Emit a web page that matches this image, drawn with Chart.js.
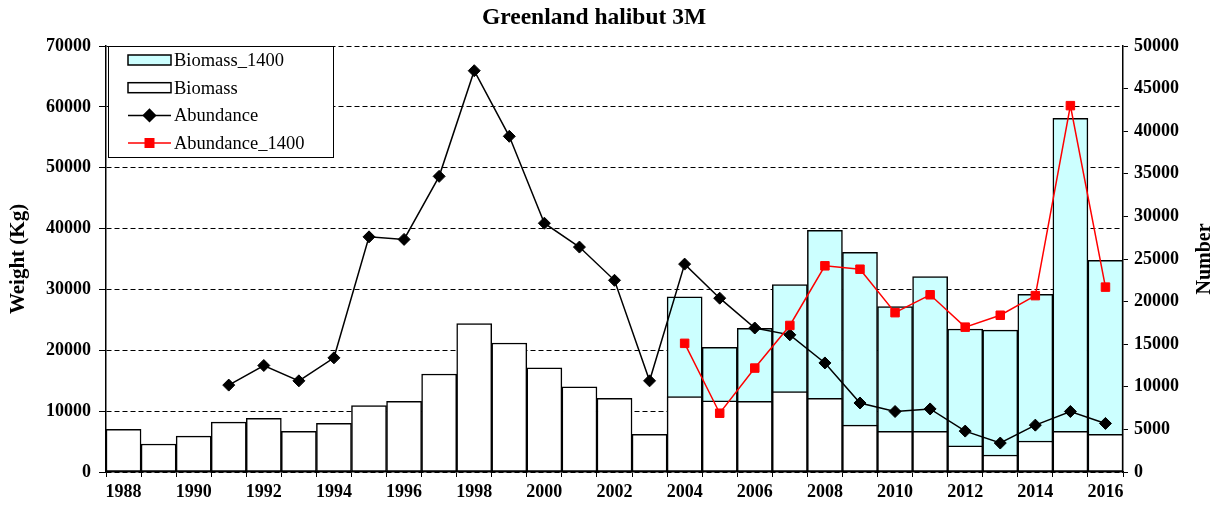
<!DOCTYPE html>
<html>
<head>
<meta charset="utf-8">
<title>Greenland halibut 3M</title>
<script src="https://cdn.jsdelivr.net/npm/chart.js@4.4.1/dist/chart.umd.min.js"></script>
<style>
  html, body { margin: 0; padding: 0; background: #fff; }
  #wrap { width: 1225px; height: 508px; }
</style>
</head>
<body>
<div id="wrap"><canvas id="chart"></canvas></div>
<script>
const years = ["1988", "1989", "1990", "1991", "1992", "1993", "1994", "1995", "1996", "1997",
    "1998", "1999", "2000", "2001", "2002", "2003", "2004", "2005", "2006", "2007",
    "2008", "2009", "2010", "2011", "2012", "2013", "2014", "2015", "2016"];

// weight (kg), left axis
const biomass = [7000, 4600, 5900, 8200, 8800, 6700, 8000, 10900, 11600, 16100,
    24400, 21200, 17100, 14000, 12100, 6200, 12400, 11700, 11600, 13200,
    12100, 7700, 6700, 6700, 4300, 2800, 5100, 6700, 6200];
const biomass1400 = [null, null, null, null, null, null, null, null, null, null,
    null, null, null, null, null, null, 28800, 20500, 23600, 30800,
    39700, 36100, 27200, 32100, 23500, 23300, 29200, 58100, 34800];

// number, right axis
const abundance = [null, null, null, 10200, 12500, 10700, 13400, 27600, 27300, 34700,
    47100, 39400, 29200, 26400, 22500, 10700, 24400, 20400, 16900, 16100,
    12800, 8100, 7100, 7400, 4800, 3400, 5500, 7100, 5700];
const abundance1400 = [null, null, null, null, null, null, null, null, null, null,
    null, null, null, null, null, null, 15100, 6900, 12200, 17200,
    24200, 23800, 18700, 20800, 17000, 18400, 20700, 43000, 21700];

const chartTitle = "Greenland halibut 3M";
const serif = "'Liberation Serif', 'Times New Roman', serif";

// title, legend box inside the plot, and the right axis title read bottom to top
const decorations = {
    id: "decorations",
    afterDraw(chart) {
        const ctx = chart.ctx;
        const area = chart.chartArea;
        ctx.save();

        ctx.fillStyle = "#000";
        ctx.font = "bold 23.5px " + serif;
        ctx.textAlign = "center";
        ctx.textBaseline = "middle";
        ctx.fillText(chartTitle, 594, 18);

        const x = area.left + 2, y = area.top, w = 225, h = 111;
        ctx.fillStyle = "#fff";
        ctx.fillRect(x, y, w, h);
        ctx.strokeStyle = "#000";
        ctx.lineWidth = 1;
        ctx.strokeRect(x + 0.5, y + 0.5, w, h);

        chart.data.datasets.forEach((ds, i) => {
            const cy = y + 14 + i * 27.7;
            const sx = x + 20, ex = x + 63;
            if (ds.type === "bar") {
                ctx.fillStyle = ds.backgroundColor;
                ctx.fillRect(sx, cy - 5, ex - sx, 10);
                ctx.lineWidth = 1.5;
                ctx.strokeStyle = "#000";
                ctx.strokeRect(sx, cy - 5, ex - sx, 10);
            } else {
                ctx.strokeStyle = ds.borderColor;
                ctx.lineWidth = ds.borderWidth;
                ctx.beginPath();
                ctx.moveTo(sx, cy);
                ctx.lineTo(ex, cy);
                ctx.stroke();
                ctx.fillStyle = ds.pointBackgroundColor;
                ctx.strokeStyle = ds.borderColor;
                Chart.helpers.drawPoint(ctx, {
                    pointStyle: ds.pointStyle, radius: ds.pointRadius, rotation: 0, borderWidth: 1
                }, (sx + ex) / 2, cy);
            }
            ctx.fillStyle = "#000";
            ctx.font = "18.5px " + serif;
            ctx.textBaseline = "middle";
            ctx.textAlign = "left";
            ctx.fillText(ds.label, ex + 3, cy + 1);
        });

        ctx.translate(1205, (area.top + area.bottom) / 2);
        ctx.rotate(-Math.PI / 2);
        ctx.fillStyle = "#000";
        ctx.font = "bold 20px " + serif;
        ctx.textAlign = "center";
        ctx.textBaseline = "middle";
        ctx.fillText("Number", 0, 0);
        ctx.restore();
    }
};

const tickFont = { family: serif, size: 18, weight: "bold" };

new Chart(document.getElementById("chart"), {
    data: {
        labels: years,
        datasets: [
            {
                type: "bar", label: "Biomass_1400", data: biomass1400, yAxisID: "y", order: 3,
                backgroundColor: "#ccffff", borderColor: "#000", borderWidth: 1.5, borderSkipped: false,
                grouped: false, barPercentage: 1, categoryPercentage: 1
            },
            {
                type: "bar", label: "Biomass", data: biomass, yAxisID: "y", order: 2,
                backgroundColor: "#ffffff", borderColor: "#000", borderWidth: 1.5, borderSkipped: false,
                grouped: false, barPercentage: 1, categoryPercentage: 1
            },
            {
                type: "line", label: "Abundance", data: abundance, yAxisID: "y1", order: 1,
                borderColor: "#000", borderWidth: 1.5, pointStyle: "rectRot", pointRadius: 6,
                pointBackgroundColor: "#000", pointBorderWidth: 1, tension: 0
            },
            {
                type: "line", label: "Abundance_1400", data: abundance1400, yAxisID: "y1", order: 0,
                borderColor: "#ff0000", borderWidth: 1.5, pointStyle: "rect", pointRadius: 6,
                pointBackgroundColor: "#ff0000", pointBorderWidth: 1, tension: 0
            }
        ]
    },
    options: {
        responsive: true,
        maintainAspectRatio: false,
        animation: false,
        layout: { padding: { top: 46 } },
        plugins: {
            legend: { display: false },
            tooltip: { enabled: false },
            title: { display: false }
        },
        scales: {
            x: {
                offset: true,
                grid: { offset: true, drawOnChartArea: false, color: "#000", tickLength: 5 },
                border: { color: "#000", width: 1.5 },
                ticks: {
                    autoSkip: false, maxRotation: 0, color: "#000", padding: 5,
                    font: tickFont,
                    callback: function (v, i) { return i % 2 === 0 ? years[i] : ""; }
                },
                afterFit: s => { s.height = 36; }
            },
            y: {
                position: "left", min: 0, max: 70000,
                grid: { color: "#000", lineWidth: 1, tickLength: 7 },
                border: { color: "#000", width: 1.5, dash: [5, 3] },
                ticks: {
                    stepSize: 10000, color: "#000", padding: 8, font: tickFont,
                    callback: v => String(v)
                },
                title: {
                    display: true, text: "Weight (Kg)", color: "#000", padding: { top: 6 },
                    font: { family: serif, size: 21, weight: "bold" }
                },
                afterFit: s => { s.width = 106; }
            },
            y1: {
                position: "right", min: 0, max: 50000,
                grid: { drawOnChartArea: false, color: "#000", tickLength: 5 },
                border: { color: "#000", width: 1.5 },
                ticks: {
                    stepSize: 5000, color: "#000", padding: 6, font: tickFont,
                    callback: v => String(v)
                },
                afterFit: s => { s.width = 102; }
            }
        }
    },
    plugins: [decorations]
});
</script>
</body>
</html>
